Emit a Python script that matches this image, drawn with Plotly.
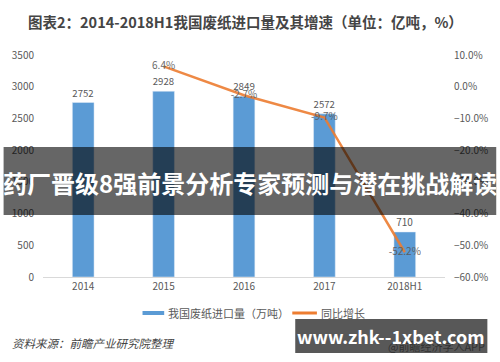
import plotly.graph_objects as go

categories = ["2014", "2015", "2016", "2017", "2018H1"]
import_volume = [2752, 2928, 2849, 2572, 710]
yoy_growth = [None, 0.064, -0.027, -0.097, -0.522]
yoy_labels = ["", "6.4%", "-2.7%", "-9.7%", "-52.2%"]

FONT = "Noto Sans CJK SC, Noto Sans, sans-serif"
W, H = 500, 362
ML, MR, MT, MB = 40, 52, 55, 85
PW = W - ML - MR
PH = H - MT - MB


def px(x):
    return (x - ML) / PW


def py(y):
    return (H - MB - y) / PH


fig = go.Figure()
fig.add_trace(go.Bar(
    x=categories, y=import_volume, name="我国废纸进口量（万吨）",
    marker_color="#5B9BD5", width=0.27,
    text=[str(v) for v in import_volume], textposition="outside",
    textfont=dict(size=10, color="#595959", family=FONT),
    cliponaxis=False, showlegend=False,
))
fig.add_trace(go.Scatter(
    x=categories, y=yoy_growth, name="同比增长", yaxis="y2",
    mode="lines+text", line=dict(color="#ED7D31", width=2.5),
    opacity=0.9, text=yoy_labels, textposition="middle center",
    textfont=dict(size=10, color="#595959", family=FONT),
    cliponaxis=False, showlegend=False,
))

fig.update_layout(
    width=W, height=H,
    margin=dict(l=ML, r=MR, t=MT, b=MB),
    paper_bgcolor="white", plot_bgcolor="white",
    font=dict(family=FONT, size=10, color="#595959"),
    showlegend=False,
    xaxis=dict(type="category", showgrid=False, showline=True,
               linecolor="#d9d9d9", linewidth=1, ticks="",
               tickfont=dict(size=10, color="#595959")),
    yaxis=dict(range=[0, 3500], dtick=500, showgrid=False, zeroline=False,
               showline=False, ticks="", ticklabelstandoff=8,
               tickfont=dict(size=10, color="#595959")),
    yaxis2=dict(range=[-0.6, 0.1], dtick=0.1, tickformat=".1%",
                overlaying="y", side="right", showgrid=False,
                zeroline=False, showline=False, ticks="",
                ticklabelstandoff=8,
                tickfont=dict(size=10, color="#595959")),
)

shapes = []
annotations = []

# Title
annotations.append(dict(
    xref="paper", yref="paper", x=px(246), y=py(21),
    text="<b>图表2：2014-2018H1我国废纸进口量及其增速（单位：亿吨，%）</b>",
    showarrow=False, xanchor="center", yanchor="middle",
    font=dict(size=14.5, color="#454545", family=FONT)))

# Custom legend
shapes.append(dict(type="rect", xref="paper", yref="paper",
                   x0=px(141), x1=px(163), y0=py(311), y1=py(315),
                   fillcolor="#5B9BD5", line=dict(width=0)))
annotations.append(dict(
    xref="paper", yref="paper", x=px(165), y=py(313),
    text="我国废纸进口量（万吨）", showarrow=False,
    xanchor="left", yanchor="middle",
    font=dict(size=11, color="#595959", family=FONT)))
shapes.append(dict(type="line", xref="paper", yref="paper",
                   x0=px(293), x1=px(318), y0=py(313), y1=py(313),
                   line=dict(color="#ED7D31", width=3)))
annotations.append(dict(
    xref="paper", yref="paper", x=px(320), y=py(313),
    text="同比增长", showarrow=False,
    xanchor="left", yanchor="middle",
    font=dict(size=11, color="#595959", family=FONT)))

# Source
annotations.append(dict(
    xref="paper", yref="paper", x=px(7), y=py(343),
    text="<i>资料来源：前瞻产业研究院整理</i>", showarrow=False,
    xanchor="left", yanchor="middle",
    font=dict(size=11.5, color="#454545", family=FONT)))

# Banner overlay
shapes.append(dict(type="rect", xref="paper", yref="paper", layer="above",
                   x0=px(0), x1=px(500), y0=py(215), y1=py(147),
                   fillcolor="rgba(0,0,0,0.6)", line=dict(width=0)))
annotations.append(dict(
    xref="paper", yref="paper", x=px(250), y=py(182),
    text="<b>药厂晋级8强前景分析专家预测与潜在挑战解读</b>",
    showarrow=False, xanchor="center", yanchor="middle",
    font=dict(size=24, color="white", family=FONT)))

# Bottom-right watermark box
shapes.append(dict(type="rect", xref="paper", yref="paper", layer="above",
                   x0=px(296), x1=px(491), y0=py(353), y1=py(319),
                   fillcolor="rgba(70,70,70,0.9)", line=dict(width=0)))
annotations.append(dict(
    xref="paper", yref="paper", x=px(491), y=py(346),
    text="@前瞻经济学人APP", showarrow=False,
    xanchor="right", yanchor="middle",
    font=dict(size=11, color="rgba(30,30,30,0.7)", family=FONT)))
annotations.append(dict(
    xref="paper", yref="paper", x=px(393), y=py(336),
    text="<b>www.zhk--1xbet.com</b>", showarrow=False,
    xanchor="center", yanchor="middle",
    font=dict(size=18, color="white", family=FONT)))

fig.update_layout(shapes=shapes, annotations=annotations)
fig.write_html("out.html")
